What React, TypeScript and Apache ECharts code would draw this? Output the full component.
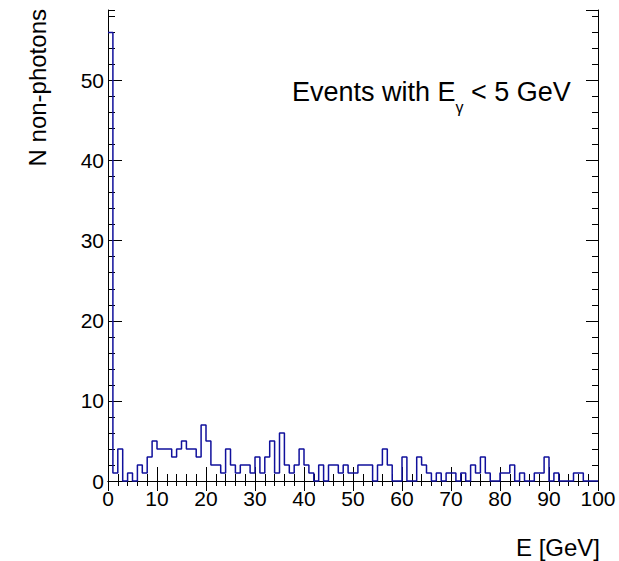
import React, { useEffect, useRef } from "react";
import * as echarts from "echarts";

// Histogram: N non-photons per 1 GeV bin, E from 0 to 100 GeV
const binLow = 0;
const binWidth = 1;
const counts = [
  56, 1, 4, 0, 1, 0, 2, 1, 3, 5,
  4, 4, 4, 3, 4, 5, 4, 4, 3, 7,
  5, 2, 2, 1, 4, 2, 1, 2, 2, 1,
  3, 1, 3, 5, 1, 6, 2, 1, 2, 4,
  2, 1, 0, 2, 0, 2, 2, 1, 2, 1,
  1, 2, 2, 2, 0, 2, 4, 2, 0, 0,
  3, 0, 0, 3, 2, 1, 0, 1, 0, 1,
  1, 0, 1, 0, 2, 1, 3, 1, 0, 0,
  1, 1, 2, 0, 1, 0, 0, 1, 1, 3,
  0, 1, 0, 0, 0, 1, 1, 0, 0, 0,
];
const xMin = 0;
const xMax = 100;
const yMin = 0;
const yMax = 58.8;
const xTitle = "E [GeV]";
const yTitle = "N non-photons";

const FONT = "'Liberation Sans', Arial, Helvetica, sans-serif";

export default function App() {
  const ref = useRef<HTMLDivElement>(null);
  useEffect(() => {
    if (!ref.current) return;
    const chart = echarts.init(ref.current, undefined, { renderer: "svg" });
    const data: number[][] = counts.map((c, i) => [binLow + i * binWidth, c]);
    data.push([binLow + counts.length * binWidth, counts[counts.length - 1]]);

    const black = "#000000";
    const baseX = {
      type: "value" as const,
      min: xMin,
      max: xMax,
      interval: 10,
      splitLine: { show: false },
      axisLine: { show: true, lineStyle: { color: black, width: 1 } },
    };
    const baseY = {
      type: "value" as const,
      min: yMin,
      max: yMax,
      splitLine: { show: false },
    };

    chart.setOption({
      animation: false,
      grid: { left: 108, right: 21, top: 10, bottom: 80, containLabel: false },
      xAxis: [
        {
          ...baseX,
          position: "bottom",
          axisTick: { show: true, inside: true, length: 14, lineStyle: { color: black } },
          minorTick: { show: true, splitNumber: 5, length: 7, lineStyle: { color: black } },
          axisLabel: { show: true, fontSize: 21, fontFamily: FONT, color: black, margin: 7 },
        },
        {
          ...baseX,
          position: "top",
          axisTick: { show: true, inside: true, length: 10, lineStyle: { color: black } },
          minorTick: { show: true, splitNumber: 5, length: 5, lineStyle: { color: black } },
          axisLabel: { show: false },
        },
      ],
      yAxis: [
        {
          ...baseY,
          position: "left",
          interval: 10,
          axisLine: { show: true, lineStyle: { color: black, width: 1 } },
          axisTick: { show: true, inside: true, length: 14, lineStyle: { color: black } },
          axisLabel: {
            show: true, fontSize: 21, fontFamily: FONT, color: black, margin: 4,
            showMaxLabel: false,
          },
        },
        {
          ...baseY,
          position: "left",
          interval: 2,
          axisLine: { show: false },
          axisTick: { show: true, inside: true, length: 7, lineStyle: { color: black } },
          axisLabel: { show: false },
        },
        {
          ...baseY,
          position: "right",
          interval: 10,
          axisLine: { show: true, lineStyle: { color: black, width: 1 } },
          axisTick: { show: true, inside: true, length: 12, lineStyle: { color: black } },
          axisLabel: { show: false },
        },
        {
          ...baseY,
          position: "right",
          interval: 2,
          axisLine: { show: false },
          axisTick: { show: true, inside: true, length: 6, lineStyle: { color: black } },
          axisLabel: { show: false },
        },
      ],
      series: [
        {
          type: "line",
          xAxisIndex: 0,
          yAxisIndex: 0,
          step: "end",
          symbol: "none",
          clip: false,
          data,
          lineStyle: { color: "#10109c", width: 1.5 },
          z: 5,
        },
      ],
      graphic: [
        {
          type: "text",
          x: 37,
          y: 9,
          rotation: Math.PI / 2,
          style: {
            text: yTitle,
            fontSize: 24,
            fontFamily: FONT,
            fill: black,
            align: "right",
            verticalAlign: "middle",
          },
        },
        {
          type: "text",
          x: 600,
          y: 547,
          style: {
            text: xTitle,
            fontSize: 24,
            fontFamily: FONT,
            fill: black,
            align: "right",
            verticalAlign: "middle",
          },
        },
        {
          type: "text",
          x: 292,
          y: 92,
          style: {
            text: "{a|Events with E}{s|γ}{a| < 5 GeV}",
            verticalAlign: "middle",
            align: "left",
            rich: {
              a: { fontSize: 27, fontFamily: FONT, fill: black, lineHeight: 32, verticalAlign: "middle" },
              s: { fontSize: 16, fontFamily: FONT, fill: black, lineHeight: 16, verticalAlign: "bottom", padding: [0, 0, -7, 0] },
            },
          },
        },
      ],
    });
    return () => chart.dispose();
  }, []);
  return (
    <div
      ref={ref}
      style={{ position: "fixed", left: 0, top: 0, width: 619, height: 561, background: "#fff" }}
    />
  );
}
